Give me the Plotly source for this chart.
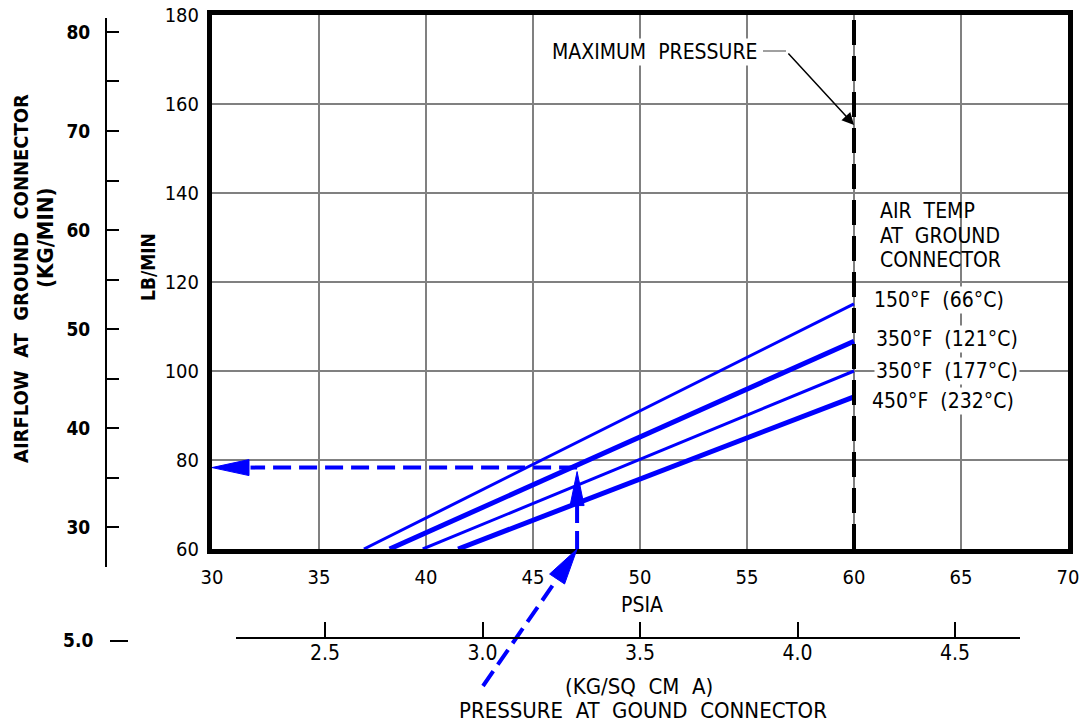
import plotly.graph_objects as go

# ---------------- data ----------------
temp_labels = ["150°F  (66°C)", "350°F  (121°C)", "350°F  (177°C)", "450°F  (232°C)"]
psia_start = [37.1, 38.3, 39.85, 41.5]      # PSIA where each curve meets 60 lb/min
flow_at_max = [115.1, 106.7, 100.0, 94.2]   # lb/min at maximum pressure
line_widths = [3, 5, 3, 5]
max_pressure = 60.0
flow_floor = 60.0

example_psia = 47.06
example_flow = 78.3

psia_ticks = [30, 35, 40, 45, 50, 55, 60, 65, 70]
lbmin_ticks = [60, 80, 100, 120, 140, 160, 180]
kgmin_ticks = [30, 35, 40, 45, 50, 55, 60, 65, 70, 75, 80]
kgcm_ticks = [2.5, 3.0, 3.5, 4.0, 4.5]

W, H = 1081, 723
FONT = "DejaVu Sans Condensed, DejaVu Sans, sans-serif"
BLUE = "#0000FF"
GRID = "#808080"

# main plot pixel box
PX0, PX1, PY0, PY1 = 212, 1068, 549, 15
XR = [30, 70]
YR = [60, 180]


def fx(px):
    return px / W


def fy(py):
    return 1 - py / H


def data_px(x, y):
    px = PX0 + (x - XR[0]) / (XR[1] - XR[0]) * (PX1 - PX0)
    py = PY0 - (y - YR[0]) / (YR[1] - YR[0]) * (PY0 - PY1)
    return px, py


fig = go.Figure()

for s, e, w, lab in zip(psia_start, flow_at_max, line_widths, temp_labels):
    fig.add_trace(go.Scatter(x=[s, max_pressure], y=[flow_floor, e], mode="lines",
                             line=dict(color=BLUE, width=w), name=lab,
                             hoverinfo="skip", showlegend=False))

# example reading dashed lines (inside plot)
dash_blue = "18px,8px"
fig.add_trace(go.Scatter(x=[example_psia, 31.8], y=[example_flow, example_flow], mode="lines",
                         line=dict(color=BLUE, width=4, dash=dash_blue), showlegend=False,
                         hoverinfo="skip"))
fig.add_trace(go.Scatter(x=[example_psia, example_psia], y=[flow_floor, 70.2], mode="lines",
                         line=dict(color=BLUE, width=4, dash=dash_blue), showlegend=False,
                         hoverinfo="skip"))

shapes = []
annotations = []

# max pressure dashed line
shapes.append(dict(type="line", xref="x", yref="y", x0=max_pressure, x1=max_pressure,
                   y0=YR[0], y1=YR[1], line=dict(color="black", width=4, dash="25px,11px"),
                   layer="above"))


def tri(tip, base_center, half_w):
    tx, ty = tip
    bx, by = base_center
    dx, dy = tx - bx, ty - by
    L = (dx * dx + dy * dy) ** 0.5
    nx, ny = -dy / L * half_w, dx / L * half_w
    pts = [(tx, ty), (bx + nx, by + ny), (bx - nx, by - ny)]
    path = "M " + " L ".join(f"{fx(p[0]):.5f},{fy(p[1]):.5f}" for p in pts) + " Z"
    return dict(type="path", xref="paper", yref="paper", path=path,
                fillcolor=BLUE, line=dict(color=BLUE, width=1), layer="above")


# arrowheads
tipL = data_px(XR[0], example_flow)
shapes.append(tri(tipL, (tipL[0] + 37, tipL[1]), 8))
tipU = data_px(example_psia, example_flow)
shapes.append(tri((tipU[0], tipU[1] + 4), (tipU[0], tipU[1] + 38), 7))
tipD = data_px(example_psia, flow_floor)
diag_tail = (483, 686)
shapes.append(tri(tipD, (tipD[0] - 20, tipD[1] + 30), 9))
# diagonal dashed line from below the chart
shapes.append(dict(type="line", xref="paper", yref="paper",
                   x0=fx(diag_tail[0]), y0=fy(diag_tail[1]),
                   x1=fx(tipD[0] - 20), y1=fy(tipD[1] + 30),
                   line=dict(color=BLUE, width=4, dash=dash_blue), layer="above"))

# bottom kg/cm2 axis line
shapes.append(dict(type="line", xref="paper", yref="paper", x0=fx(236), x1=fx(1020),
                   y0=fy(638), y1=fy(638), line=dict(color="black", width=2)))
# "5.0 —" stray mark
shapes.append(dict(type="line", xref="paper", yref="paper", x0=fx(110), x1=fx(128),
                   y0=fy(641), y1=fy(641), line=dict(color="black", width=2)))
# maximum pressure leader
shapes.append(dict(type="line", xref="paper", yref="paper", x0=fx(763), x1=fx(786),
                   y0=fy(51), y1=fy(51), line=dict(color=GRID, width=1.5)))

annotations.append(dict(x=max_pressure, y=155.3, xref="x", yref="y", text="",
                        showarrow=True, ax=786 - 853, ay=51 - 124, arrowhead=2,
                        arrowsize=1.6, arrowwidth=1.5, arrowcolor="black"))


def txt_ann(text, x, y, size=21, xanchor="center", angle=0, bg=None, bold=False):
    d = dict(x=fx(x), y=fy(y), xref="paper", yref="paper", text=text,
             xanchor=xanchor, yanchor="middle", showarrow=False, textangle=angle,
             font=dict(family=FONT, size=size, color="black",
                       weight="bold" if bold else "normal"))
    if bg:
        d["bgcolor"] = bg
    return d


annotations.append(txt_ann("MAXIMUM  PRESSURE", 655, 52, size=21, bg="white"))

for t, yy in zip(["AIR  TEMP", "AT  GROUND", "CONNECTOR"], [211, 236, 260]):
    annotations.append(txt_ann(t, 878, yy, size=21, xanchor="left"))

for t, xx, yy in zip(temp_labels, [872, 874, 874, 870], [300, 339, 371, 401]):
    annotations.append(txt_ann(t, xx, yy, size=21, xanchor="left", bg="white"))

# axis titles
annotations += [
    txt_ann("AIRFLOW  AT  GROUND  CONNECTOR", 21, 279, size=20, angle=-90, bold=True),
    txt_ann("(KG/MIN)", 46, 238, size=22, angle=-90, bold=True),
    txt_ann("LB/MIN", 148, 267, size=19, angle=-90, bold=True),
    txt_ann("PSIA", 642, 605, size=21),
    txt_ann("(KG/SQ  CM  A)", 639, 686, size=22),
    txt_ann("PRESSURE  AT  GOUND  CONNECTOR", 643, 710, size=22),
    txt_ann("5.0", 78, 640, size=19, bold=True),
]

tickfont = dict(family=FONT, size=20, color="black")

# kg/min axis mapping: 30 kg at y=527, 9.92 px per kg
kg_lo = 30 - (567 - 527) / 9.92
kg_hi = 80 + (32 - 18) / 9.92
# kg/cm2 axis mapping: 3.5 at x=640, 315 px per unit
kc_lo = 3.5 - (640 - 236) / 315
kc_hi = 3.5 + (1020 - 640) / 315

fig.update_layout(
    width=W, height=H, template="none",
    margin=dict(l=0, r=0, t=0, b=0),
    paper_bgcolor="white", plot_bgcolor="white",
    showlegend=False,
    font=dict(family=FONT, color="black"),
    xaxis=dict(domain=[fx(PX0), fx(PX1)], range=XR, tickvals=psia_ticks,
               showgrid=True, gridcolor=GRID, gridwidth=2, zeroline=False,
               showline=True, mirror=True, linecolor="black", linewidth=5,
               ticks="", tickfont=tickfont, anchor="y", automargin=False,
               ticklabelstandoff=6),
    yaxis=dict(domain=[fy(PY0), fy(PY1)], range=YR, tickvals=lbmin_ticks,
               showgrid=True, gridcolor=GRID, gridwidth=2, zeroline=False,
               showline=True, mirror=True, linecolor="black", linewidth=5,
               ticks="", tickfont=tickfont, anchor="x", automargin=False,
               ticklabelstandoff=4),
    xaxis2=dict(domain=[fx(236), fx(1020)], range=[kc_lo, kc_hi], tickvals=kgcm_ticks,
                ticktext=[f"{v:.1f}" for v in kgcm_ticks],
                anchor="y4", showgrid=False, zeroline=False, showline=False,
                ticks="inside", ticklen=16, tickwidth=2, tickcolor="black",
                tickfont=dict(family=FONT, size=21, color="black"), automargin=False),
    yaxis4=dict(domain=[fy(638), fy(630)], range=[0, 1], visible=False, anchor="x2"),
    xaxis3=dict(domain=[fx(107), fx(110)], range=[0, 1], visible=False, anchor="y3"),
    yaxis3=dict(domain=[fy(567), fy(18)], range=[kg_lo, kg_hi], tickvals=kgmin_ticks,
                ticktext=[str(v) if v % 10 == 0 else "" for v in kgmin_ticks],
                anchor="x3", side="left", showgrid=False, zeroline=False,
                showline=True, linecolor="black", linewidth=2,
                ticks="inside", ticklen=12, tickwidth=2, tickcolor="black",
                tickfont=dict(family=FONT, size=19, color="black", weight="bold"),
                ticklabelstandoff=11, automargin=False),
    shapes=shapes,
    annotations=annotations,
)

fig.add_trace(go.Scatter(x=[], y=[], xaxis="x2", yaxis="y4", showlegend=False))
fig.add_trace(go.Scatter(x=[], y=[], xaxis="x3", yaxis="y3", showlegend=False))

fig.write_html("out.html", config={"displayModeBar": False},
               post_script="document.body.style.margin='0px';")
